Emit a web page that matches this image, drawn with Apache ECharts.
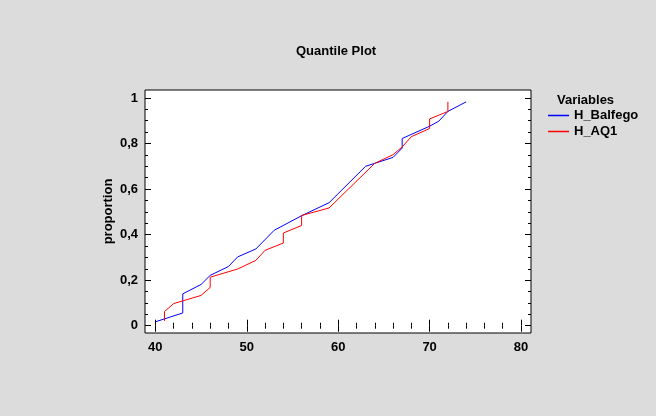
<!DOCTYPE html>
<html>
<head>
<meta charset="utf-8">
<script src="https://cdn.jsdelivr.net/npm/echarts@6/dist/echarts.min.js"></script>
<style>
html,body{margin:0;padding:0;background:#dcdcdc;}
#chart{width:656px;height:416px;}
</style>
</head>
<body>
<div id="chart"></div>
<script>
// ---- data ----
var balfegoX = [40, 43, 43, 45, 46, 48, 49, 51, 53, 56, 59, 63, 64, 66, 67, 67, 70, 71, 72, 74];
var balfegoP = [0.017, 0.056, 0.14, 0.181, 0.221, 0.26, 0.302, 0.337, 0.419, 0.483, 0.54, 0.70, 0.713, 0.739, 0.78, 0.822, 0.876, 0.898, 0.941, 0.983];
var aq1X = [41, 41, 42, 45, 46, 46, 49, 51, 52, 54, 54, 56, 56, 59, 64, 66, 67, 68, 70, 70, 72, 72];
var aq1P = [0.021, 0.062, 0.097, 0.133, 0.168, 0.213, 0.249, 0.287, 0.331, 0.363, 0.407, 0.44, 0.484, 0.517, 0.713, 0.751, 0.785, 0.83, 0.866, 0.908, 0.941, 0.983];
var seriesNames = ['H_Balfego', 'H_AQ1'];
var xMajor = [40, 50, 60, 70, 80];
var xMinor = [42, 44, 46, 48, 52, 54, 56, 58, 62, 64, 66, 68, 72, 74, 76, 78];
var yMajor = [0, 0.2, 0.4, 0.6, 0.8, 1];
var yMinor = [0.05, 0.1, 0.15, 0.25, 0.3, 0.35, 0.45, 0.5, 0.55, 0.65, 0.7, 0.75, 0.85, 0.9, 0.95];
var titleText = 'Quantile Plot';
var legendTitle = 'Variables';
var yName = 'proportion';

function zip(xs, ys) { return xs.map(function (x, i) { return [x, ys[i]]; }); }

var FONT = "'Liberation Sans', Arial, sans-serif";
var XMIN = 38.87, XMAX = 81.09, YMIN = -0.032, YMAX = 1.035;

function xAxisDef(pos, ticks, len, labels) {
  return {
    type: 'value', position: pos, min: XMIN, max: XMAX,
    axisLine: { show: false },
    splitLine: { show: false },
    axisTick: { show: true, inside: true, length: len, customValues: ticks, lineStyle: { color: '#000', width: 1 } },
    axisLabel: labels ? { show: true, customValues: ticks, margin: 8, color: '#000', fontWeight: 'bold', fontSize: 13, fontFamily: FONT } : { show: false }
  };
}
function yAxisDef(pos, ticks, len, labels, name) {
  var a = {
    type: 'value', position: pos, min: YMIN, max: YMAX,
    axisLine: { show: false },
    splitLine: { show: false },
    axisTick: { show: true, inside: true, length: len, customValues: ticks, lineStyle: { color: '#000', width: 1 } },
    axisLabel: labels ? { show: true, customValues: ticks, margin: 7, color: '#000', fontWeight: 'bold', fontSize: 13, fontFamily: FONT,
      formatter: function (v) { return String(Math.round(v * 10) / 10).replace('.', ','); } } : { show: false }
  };
  if (name) {
    a.name = name; a.nameLocation = 'middle'; a.nameGap = 30; a.nameMoveOverlap = false;
    a.nameTextStyle = { color: '#000', fontWeight: 'bold', fontSize: 13, fontFamily: FONT };
  }
  return a;
}

var chart = echarts.init(document.getElementById('chart'), null, { renderer: 'canvas' });
chart.setOption({
  animation: false,
  backgroundColor: '#dcdcdc',
  title: [
    { text: titleText, left: 296, top: 45, padding: 0,
      textStyle: { color: '#000', fontWeight: 'bold', fontSize: 13, fontFamily: FONT } },
    { text: legendTitle, left: 557, top: 94, padding: 0,
      textStyle: { color: '#000', fontWeight: 'bold', fontSize: 13, fontFamily: FONT } }
  ],
  legend: {
    data: seriesNames, orient: 'vertical', left: 548, top: 109, padding: 0,
    itemWidth: 21, itemHeight: 1.5, itemGap: 3, icon: 'rect',
    textStyle: { color: '#000', fontWeight: 'bold', fontSize: 13, fontFamily: FONT }
  },
  grid: {
    left: 145, top: 90, right: 125, bottom: 83,
    show: true, backgroundColor: '#fff', borderColor: '#000', borderWidth: 1
  },
  xAxis: [
    xAxisDef('bottom', xMajor, 6, true),
    xAxisDef('bottom', xMinor, 3, false),
    xAxisDef('top', xMajor, 6, false),
    xAxisDef('top', xMinor, 3, false)
  ],
  yAxis: [
    yAxisDef('left', yMajor, 6, true, yName),
    yAxisDef('left', yMinor, 3, false),
    yAxisDef('right', yMajor, 6, false),
    yAxisDef('right', yMinor, 3, false)
  ],
  series: [
    { name: seriesNames[0], type: 'line', data: zip(balfegoX, balfegoP), showSymbol: false, symbol: 'none',
      xAxisIndex: 0, yAxisIndex: 0,
      lineStyle: { color: '#0000ff', width: 1 }, itemStyle: { color: '#0000ff' } },
    { name: seriesNames[1], type: 'line', data: zip(aq1X, aq1P), showSymbol: false, symbol: 'none',
      xAxisIndex: 0, yAxisIndex: 0,
      lineStyle: { color: '#ff0000', width: 1 }, itemStyle: { color: '#ff0000' } }
  ]
});
</script>
</body>
</html>
